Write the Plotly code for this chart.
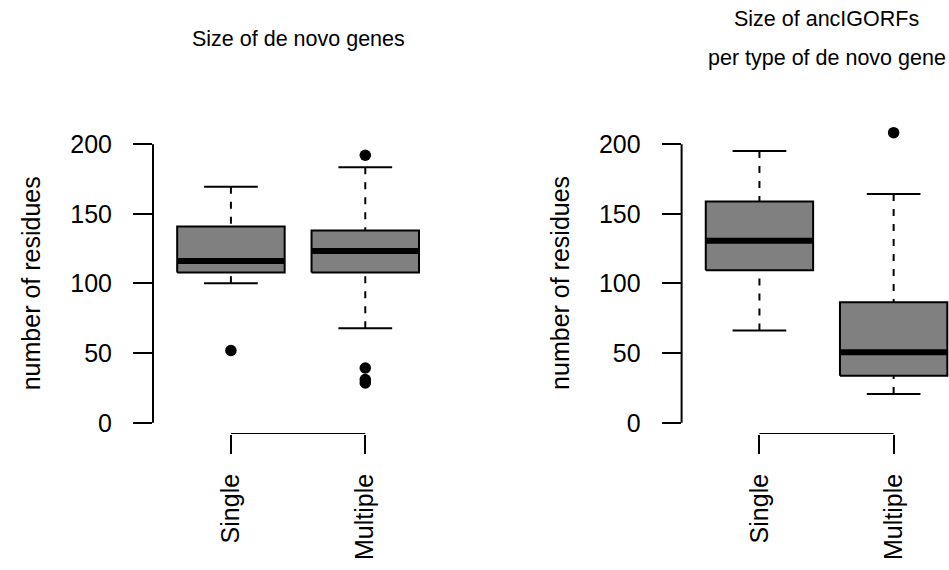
import plotly.graph_objects as go

# ---------------- data ----------------
groups = ["Single", "Multiple"]
positions = [1, 2]

# Panel 1: size of de novo genes (number of residues)
genes_lower = [100.2, 67.9]
genes_q1 = [107.9, 107.9]
genes_median = [116.2, 123.4]
genes_q3 = [140.9, 138.1]
genes_upper = [169.5, 183.4]
genes_outliers = [[51.9], [192.1, 39.3, 31.0, 28.6]]

# Panel 2: size of ancIGORFs per type of de novo gene
orfs_lower = [66.2, 20.7]
orfs_q1 = [109.5, 33.8]
orfs_median = [130.7, 50.7]
orfs_q3 = [158.8, 86.6]
orfs_upper = [195.2, 164.3]
orfs_outliers = [[], [208.3]]

y_ticks = [0, 50, 100, 150, 200]

# ---------------- style ----------------
W, H = 949, 570
FONT = "Liberation Sans, Arial, Helvetica, sans-serif"
BOX_HALF = 0.4
CAP_HALF = 0.2
FILL = "#808080"
PX_PER_UNIT = 1.4
Y0_PX = 425.0          # pixel row of value 0
Y_RANGE = [-8, 212]

fig = go.Figure()


def add_boxes(xa, ya, lower, q1, med, q3, upper, outliers):
    for p, lo, a, m, b, up, outs in zip(positions, lower, q1, med, q3, upper, outliers):
        common = dict(xaxis=xa, yaxis=ya, hoverinfo="skip", showlegend=False, cliponaxis=False)
        # dashed whiskers (from whisker end to the box)
        fig.add_trace(go.Scatter(x=[p, p, None, p, p], y=[up, b, None, lo, a], mode="lines",
                                 line=dict(color="black", width=2, dash="7px,8px"), **common))
        # caps
        fig.add_trace(go.Scatter(x=[p - CAP_HALF, p + CAP_HALF, None, p - CAP_HALF, p + CAP_HALF],
                                 y=[up, up, None, lo, lo], mode="lines",
                                 line=dict(color="black", width=2), **common))
        # box
        fig.add_trace(go.Scatter(x=[p - BOX_HALF, p + BOX_HALF, p + BOX_HALF, p - BOX_HALF, p - BOX_HALF],
                                 y=[a, a, b, b, a], mode="lines", fill="toself", fillcolor=FILL,
                                 line=dict(color="black", width=2), **common))
        # median
        fig.add_trace(go.Scatter(x=[p - BOX_HALF, p + BOX_HALF], y=[m, m], mode="lines",
                                 line=dict(color="black", width=6), **common))
        # outliers
        if outs:
            fig.add_trace(go.Scatter(x=[p] * len(outs), y=outs, mode="markers",
                                     marker=dict(color="black", size=11.5, symbol="circle"), **common))


add_boxes("x", "y", genes_lower, genes_q1, genes_median, genes_q3, genes_upper, genes_outliers)
add_boxes("x2", "y2", orfs_lower, orfs_q1, orfs_median, orfs_q3, orfs_upper, orfs_outliers)

bottom_px = Y0_PX - PX_PER_UNIT * Y_RANGE[0]
top_px = Y0_PX - PX_PER_UNIT * Y_RANGE[1]
ydom = [1 - bottom_px / H, 1 - top_px / H]
axis_font = dict(family=FONT, size=25, color="black")

xcommon = dict(tickvals=positions, ticktext=groups, tickangle=-90, ticks="outside", ticklen=19,
               tickwidth=2, tickcolor="black", showgrid=False, zeroline=False, showline=False,
               tickfont=axis_font, fixedrange=True, ticklabelstandoff=10)
ycommon = dict(range=Y_RANGE, domain=ydom, tickvals=y_ticks, ticks="outside", ticklen=19,
               tickwidth=2, tickcolor="black", showgrid=False, zeroline=False, showline=False,
               tickfont=axis_font, fixedrange=True, ticklabelstandoff=16)

fig.update_layout(
    width=W, height=H,
    margin=dict(l=0, r=0, t=0, b=0),
    paper_bgcolor="white", plot_bgcolor="white",
    font=dict(family=FONT, color="black"),
    showlegend=False,
    xaxis=dict(domain=[153 / W, 443.2 / W], range=[0.42, 2.58], anchor="y", **xcommon),
    yaxis=dict(anchor="x", **ycommon),
    xaxis2=dict(domain=[681.6 / W, 1.0], range=[0.42, 2.4125], anchor="y2", **xcommon),
    yaxis2=dict(anchor="x2", **ycommon),
)

shapes = []
for xa, ya in (("x", "y"), ("x2", "y2")):
    # R-style y axis line from first to last tick
    shapes.append(dict(type="line", xref=f"{xa} domain", yref=ya, x0=0, x1=0,
                       y0=y_ticks[0], y1=y_ticks[-1], line=dict(color="black", width=2)))
    # R-style x axis bracket between the first and last group, at the bottom of the plot region
    shapes.append(dict(type="line", xref=xa, yref=ya, x0=positions[0], x1=positions[-1],
                       y0=Y_RANGE[0], y1=Y_RANGE[0], line=dict(color="black", width=2)))
fig.update_layout(shapes=shapes)

title_font = dict(family=FONT, size=21.5, color="black")
ylab_font = dict(family=FONT, size=25, color="black")
annotations = [
    dict(text="Size of de novo genes", x=298 / W, y=1 - 39 / H),
    dict(text="Size of ancIGORFs", x=826.6 / W, y=1 - 19.5 / H),
    dict(text="per type of de novo gene", x=826.6 / W, y=1 - 58.5 / H),
]
for a in annotations:
    a.update(xref="paper", yref="paper", xanchor="center", yanchor="middle", showarrow=False,
             font=title_font)
for xc in (31, 560.6):
    annotations.append(dict(text="number of residues", x=xc / W, y=1 - 284.8 / H, xref="paper",
                            yref="paper", xanchor="center", yanchor="middle", showarrow=False,
                            textangle=-90, font=ylab_font))
fig.update_layout(annotations=annotations)

fig.write_html("out.html", config={"displayModeBar": False},
               post_script="document.body.style.margin='0px';document.body.style.overflow='hidden';")
